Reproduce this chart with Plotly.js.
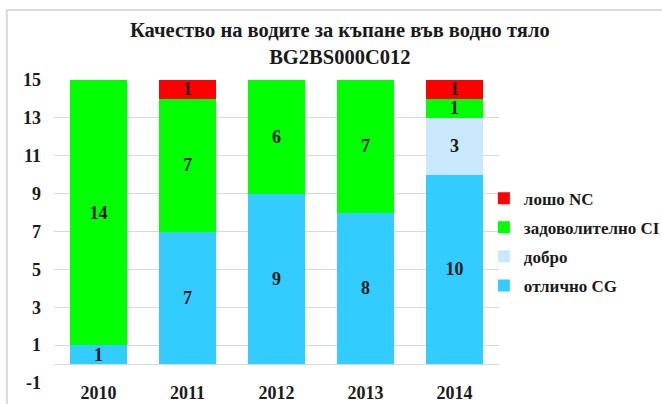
<!DOCTYPE html>
<html>
<head>
<meta charset="utf-8">
<script src="https://cdn.plot.ly/plotly-3.0.1.min.js"></script>
<style>html,body{margin:0;padding:0;background:#fff;}#chart{width:662px;height:404px;}</style>
</head>
<body>
<div id="chart"></div>
<script>
const years = ['2010', '2011', '2012', '2013', '2014'];
const excellent = [1, 7, 9, 8, 10];      // отлично CG
const good = [null, null, null, null, 3]; // добро
const sufficient = [14, 7, 6, 7, 1];     // задоволително CI
const poor = [null, 1, null, null, 1];   // лошо NC
const seriesNames = ['отлично CG', 'добро', 'задоволително CI', 'лошо NC'];
const seriesColors = ['#33CCFF', '#C9E8FB', '#00FF00', '#FF0000'];
const yTicks = [-1, 1, 3, 5, 7, 9, 11, 13, 15];
const titleLines = ['Качество на водите за къпане във водно тяло', 'BG2BS000C012'];

const FONT = 'Liberation Serif, Times New Roman, serif';
const labelFont = {family: FONT, size: 18, color: '#1a1a1a', weight: 'bold'};

const seriesValues = [excellent, good, sufficient, poor];
const traces = seriesValues.map((vals, i) => ({
  type: 'bar',
  name: seriesNames[i],
  legendgroup: 'g' + i,
  legendrank: 1000 - i,
  x: years,
  y: vals,
  marker: {color: seriesColors[i], line: {width: 0}},
  text: vals.map(v => v == null ? '' : String(v)),
  textposition: 'inside',
  insidetextanchor: 'middle',
  constraintext: 'none',
  textangle: 0,
  textfont: labelFont,
  hoverinfo: 'x+y+name'
}));

const layout = {
  width: 662,
  height: 404,
  margin: {l: 54, r: 163, t: 80, b: 21, autoexpand: false},
  paper_bgcolor: '#ffffff',
  plot_bgcolor: '#ffffff',
  barmode: 'stack',
  bargap: 0.36,
  xaxis: {
    type: 'category',
    showgrid: false,
    showline: false,
    ticks: '',
    tickfont: labelFont,
    ticklabelstandoff: -3,
    automargin: false
  },
  yaxis: {
    range: [-1, 15],
    tickvals: yTicks,
    ticktext: yTicks.map(String),
    showgrid: true,
    gridcolor: '#d9d9d9',
    gridwidth: 1,
    zeroline: true,
    zerolinecolor: '#d9d9d9',
    zerolinewidth: 1,
    showline: false,
    ticks: '',
    ticklabelstandoff: 12,
    tickfont: labelFont,
    automargin: false
  },
  legend: {
    x: 0.966, xanchor: 'left',
    y: 0.465, yanchor: 'middle',
    traceorder: 'grouped',
    tracegroupgap: 4,
    font: {family: FONT, size: 17, color: '#1a1a1a', weight: 'bold'},
    bgcolor: 'rgba(0,0,0,0)'
  },
  annotations: [{
    xref: 'paper', yref: 'paper',
    x: 0.6427, y: 1.1205, xanchor: 'center', yanchor: 'middle',
    text: titleLines.join('<br>'),
    showarrow: false,
    align: 'center',
    font: {family: FONT, size: 20.5, color: '#1a1a1a', weight: 'bold'}
  }],
  shapes: [
    {type: 'line', xref: 'paper', yref: 'paper', x0: -0.106, x1: 1.5, y0: 1.231, y1: 1.231, line: {color: '#d9d9d9', width: 2}},
    {type: 'line', xref: 'paper', yref: 'paper', x0: -0.106, x1: -0.106, y0: 1.231, y1: -0.2, line: {color: '#d9d9d9', width: 2}}
  ]
};

Plotly.newPlot('chart', traces, layout, {displayModeBar: false, staticPlot: true});
</script>
</body>
</html>
